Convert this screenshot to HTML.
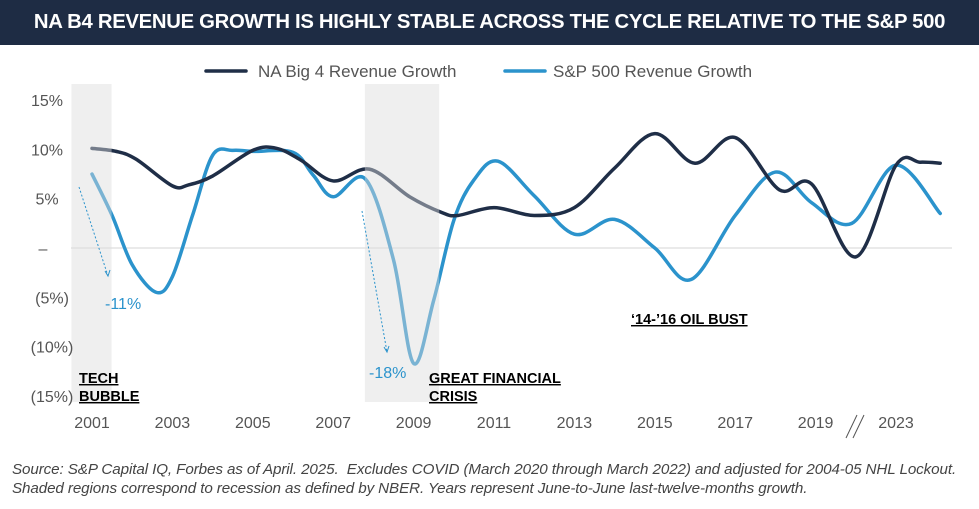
<!DOCTYPE html>
<html><head><meta charset="utf-8"><style>
body{margin:0;background:#fff;width:979px;height:509px;overflow:hidden;font-family:"Liberation Sans",sans-serif}
#title{position:absolute;left:0;top:0;width:979px;height:45px;background:#1e2c44;color:#fff;font-weight:bold;font-size:20.3px;line-height:45px;text-align:center;letter-spacing:-0.3px;white-space:nowrap}
#foot{position:absolute;left:12px;top:460px;font-size:15.2px;font-style:italic;color:#444;line-height:19px;white-space:nowrap;letter-spacing:-0.1px}
</style></head><body>
<div id="title">NA B4 REVENUE GROWTH IS HIGHLY STABLE ACROSS THE CYCLE RELATIVE TO THE S&amp;P 500</div>
<svg id="chart" width="979" height="509" style="position:absolute;left:0;top:0"></svg>
<div id="foot">Source: S&amp;P Capital IQ, Forbes as of April. 2025.&nbsp; Excludes COVID (March 2020 through March 2022) and adjusted for 2004-05 NHL Lockout.<br>Shaded regions correspond to recession as defined by NBER. Years represent June-to-June last-twelve-months growth.</div>
<script>
const tickLabels=["2001","2003","2005","2007","2009","2011","2013","2015","2017","2019","2023"];
const yTicks=[15,10,5,0,-5,-10,-15];
const yTickLabels=["15%","10%","5%","–","(5%)","(10%)","(15%)"];
const b4Periods=[2001,2001.6,2002.1,2003,2003.4,2004,2005,2005.6,2006.2,2007,2007.9,2008.9,2009.7,2010.1,2011,2012,2013,2014,2015,2016,2017,2018.1,2018.9,2020,2021,2021.6,2022.1];
const b4Values=[10.1,9.8,9,6.3,6.4,7.3,9.9,10.1,8.9,6.8,8,5.2,3.6,3.3,4.1,3.3,4.1,8.1,11.6,8.6,11.2,5.9,6.5,-0.9,8.4,8.7,8.6];
const spPeriods=[2001,2001.5,2002,2002.6,2003,2003.5,2004,2004.5,2005,2006,2006.5,2007,2007.8,2008.5,2009,2009.5,2010,2010.5,2011.1,2012,2013,2014,2015,2015.9,2017,2018,2018.9,2019.9,2021,2022.1];
const spValues=[7.5,3.3,-1.7,-4.5,-2.9,3.3,9.4,9.9,9.8,9.7,7.4,5.2,7,-1.2,-11.7,-5.3,2.8,6.9,8.8,5.3,1.4,2.9,0,-3.2,3.3,7.7,4.6,2.5,8.4,3.5];
const recessions=[[2000.5,2001.5],[2007.8,2009.65]];
const svg=document.getElementById('chart');const NS='http://www.w3.org/2000/svg';
const X=p=>92+(p-2001)*40.2;const Y=v=>248-v*9.86;
function el(t,a,parent){const e=document.createElementNS(NS,t);for(const k in a)e.setAttribute(k,a[k]);(parent||svg).appendChild(e);return e;}
const zl=el('line',{x1:71,x2:952,y1:Y(0),y2:Y(0),stroke:'#d6d6d6','stroke-width':1});

function smooth(px,py){const p=px.map((x,i)=>[X(x),Y(py[i])]);let d='M'+p[0][0]+','+p[0][1];
for(let i=0;i<p.length-1;i++){const p0=p[i-1]||p[i],p1=p[i],p2=p[i+1],p3=p[i+2]||p2;
d+=` C${p1[0]+(p2[0]-p0[0])/6},${p1[1]+(p2[1]-p0[1])/6} ${p2[0]-(p3[0]-p1[0])/6},${p2[1]-(p3[1]-p1[1])/6} ${p2[0]},${p2[1]}`;}return d;}
const l1=el('path',{d:smooth(spPeriods,spValues),fill:'none',stroke:'#2b93cc','stroke-width':3.5,'stroke-linecap':'round'});

const l2=el('path',{d:smooth(b4Periods,b4Values),fill:'none',stroke:'#1f2e47','stroke-width':3.5,'stroke-linecap':'round'});

recessions.forEach(r=>{const s=el('rect',{x:X(r[0])-0.5,y:84,width:X(r[1])-X(r[0]),height:318,fill:'#dcdcdc','fill-opacity':0.45});
});
yTicks.forEach((v,i)=>{const t=el('text',{x:i==3?43:(i>3?52:47),y:Y(v)+6,'text-anchor':'middle','font-size':16,fill:'#555'});t.textContent=yTickLabels[i];
});
tickLabels.forEach((s,i)=>{const t=el('text',{x:X(2001+i*2),y:428,'text-anchor':'middle','font-size':16,fill:'#555'});t.textContent=s;
});
const br=el('path',{d:'M846,438 L857,415 M853,438 L864,415',stroke:'#555','stroke-width':1,fill:'none'});

[[79,187,108,276],[362,211,387,352]].forEach(a=>{const g=el('line',{x1:a[0],y1:a[1],x2:a[2],y2:a[3],stroke:'#2b93cc','stroke-width':1,'stroke-dasharray':'2,2'});

const h=el('path',{d:`M${a[2]-3},${a[3]-5} L${a[2]},${a[3]} L${a[2]+2},${a[3]-6}`,fill:'none',stroke:'#2b93cc','stroke-width':1});
});
[['-11%',105,309],['-18%',369,378]].forEach(a=>{const t=el('text',{x:a[1],y:a[2],'font-size':16,fill:'#2b93cc'});t.textContent=a[0];
});
[['TECH',79,383],['BUBBLE',79,401],['GREAT FINANCIAL',429,383],['CRISIS',429,401],['‘14-’16 OIL BUST',631,324]].forEach(a=>{
const t=el('text',{x:a[1],y:a[2],'font-size':14.5,'font-weight':'bold',fill:'#000','text-decoration':'underline'});t.textContent=a[0];
});
const lg=el('g',{});
[[206,'#1f2e47','NA Big 4 Revenue Growth',258],[505,'#2b93cc','S&P 500 Revenue Growth',553]].forEach(a=>{
const m=el('line',{x1:a[0],x2:a[0]+40,y1:71,y2:71,stroke:a[1],'stroke-width':3.5,'stroke-linecap':'round'},lg);

const t=el('text',{x:a[3],y:77,'font-size':17,fill:'#555'},lg);t.textContent=a[2];
});
</script>
</body></html>
